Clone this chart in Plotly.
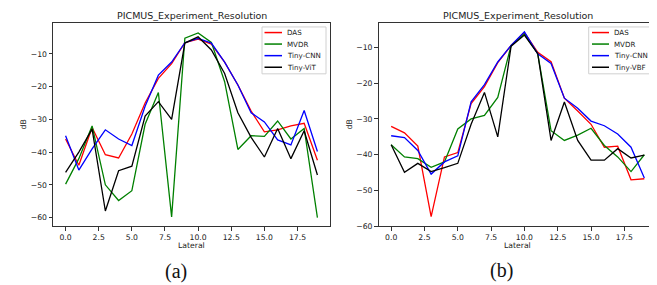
import plotly.graph_objects as go

lateral = list(range(20))

# Panel (a)
a_das = [-36, -44, -32.5, -40.8, -41.8, -34.5, -25, -17.5, -13, -6.6, -5.5, -7, -12.5, -19.5, -27.5, -33.8, -33.2, -32, -31.2, -42.5]
a_mvdr = [-49.8, -42, -32, -50, -54.8, -51.8, -31.5, -21.8, -59.8, -5.2, -3.6, -6.5, -18.5, -39.2, -35, -35.2, -30.5, -36, -32.8, -60]
a_cnn = [-35, -45.5, -39, -33.2, -36, -38, -26, -16.5, -12.5, -6.6, -5.3, -6.7, -12.5, -19.5, -28, -30.8, -36.3, -37.8, -27.3, -39.8]
a_vit = [-46.2, -40, -33, -58, -45.7, -44.3, -29, -24.6, -30, -6.7, -4.8, -8.8, -16, -28, -35.5, -41.5, -32.8, -42, -33.5, -47]

# Panel (b)
b_das = [-32.1, -33.9, -37.6, -57.3, -40.6, -39.4, -25.7, -21, -14.3, -9.5, -5.9, -11.4, -14, -24.2, -27.8, -31.5, -37.9, -37.6, -47, -46.7]
b_mvdr = [-37.2, -40.6, -41.1, -43.5, -42, -32.8, -30, -29, -24, -9.5, -6.3, -11.8, -33.3, -36, -34.5, -32.6, -37.4, -40.6, -44.7, -40]
b_cnn = [-34.7, -35.2, -38.8, -45.4, -42, -40.3, -25.2, -20.4, -14.1, -9.5, -5.7, -11.8, -14.5, -24.2, -27, -30.6, -31.9, -34.2, -37.9, -46.5]
b_vbf = [-37.2, -44.9, -42.4, -44.7, -43.6, -42.4, -31.5, -22.6, -35, -9.7, -6.6, -11.8, -36, -25.3, -36, -41.5, -41.5, -38.3, -40.9, -40.1]

names_a = ["DAS", "MVDR", "Tiny-CNN", "Tiny-ViT"]
names_b = ["DAS", "MVDR", "Tiny-CNN", "Tiny-VBF"]
colors = ["red", "green", "blue", "black"]
title_text = "PICMUS_Experiment_Resolution"
x_ticks = [0, 2.5, 5, 7.5, 10, 12.5, 15, 17.5]
y_ticks = [-60, -50, -40, -30, -20, -10]

W, H = 657, 285
FONT = "DejaVu Sans"
TXT = "#222222"

fig = go.Figure()
for ys, nm, c in zip([a_das, a_mvdr, a_cnn, a_vit], names_a, colors):
    fig.add_trace(go.Scatter(x=lateral, y=ys, mode="lines", name=nm, showlegend=False,
                             line=dict(color=c, width=1.3), xaxis="x", yaxis="y"))
for ys, nm, c in zip([b_das, b_mvdr, b_cnn, b_vbf], names_b, colors):
    fig.add_trace(go.Scatter(x=lateral, y=ys, mode="lines", name=nm, showlegend=False,
                             line=dict(color=c, width=1.3), xaxis="x2", yaxis="y2"))

def px_x(p):
    return p / W

def px_y(p):
    return 1 - p / H

axis_common = dict(showline=True, mirror=True, linecolor="#333333", linewidth=1,
                   ticks="outside", ticklen=3.5, tickwidth=0.8, tickcolor="#333333",
                   showgrid=False, zeroline=False,
                   tickfont=dict(family=FONT, size=7.7, color=TXT))

annotations = []
shapes = []

def text_ann(text, x, y, size=7.7, family=FONT, xanchor="center", angle=0, color=TXT):
    annotations.append(dict(text=text, x=px_x(x), y=px_y(y), xref="paper", yref="paper",
                            showarrow=False, xanchor=xanchor, yanchor="middle",
                            borderpad=0, textangle=angle,
                            font=dict(family=family, size=size, color=color)))

# titles, axis titles, captions
text_ann(title_text, 183.5, 8, size=9.5)
text_ann(title_text, 509.5, 8, size=9.5)
text_ann("dB", 15, 118.5, angle=-90)
text_ann("dB", 341, 118.5, angle=-90)
text_ann("Lateral", 183.5, 242)
text_ann("Lateral", 509.5, 242)
text_ann("(a)", 168, 268, size=20, family="Liberation Serif", color="#111111")
text_ann("(b)", 493, 267, size=20, family="Liberation Serif", color="#111111")

# legends (drawn manually to match the compact matplotlib style)
entry_y = [25, 36.7, 48.5, 60.3]
for (bx0, bx1, lx0, lx1, tx), names in [((254, 318, 256.5, 274, 277.5), names_a),
                                         ((580.7, 645, 584, 601, 604.5), names_b)]:
    shapes.append(dict(type="rect", xref="paper", yref="paper",
                       x0=px_x(bx0), x1=px_x(bx1), y0=px_y(67), y1=px_y(19.3),
                       line=dict(color="#d0d0d0", width=1), fillcolor="rgba(255,255,255,0.85)",
                       layer="above"))
    for nm, c, ey in zip(names, colors, entry_y):
        shapes.append(dict(type="line", xref="paper", yref="paper",
                           x0=px_x(lx0), x1=px_x(lx1), y0=px_y(ey), y1=px_y(ey),
                           line=dict(color=c, width=1.5), layer="above"))
        text_ann(nm, tx, ey, size=7.1, xanchor="left")

fig.update_layout(
    width=W, height=H,
    margin=dict(l=0, r=0, t=0, b=0),
    paper_bgcolor="white", plot_bgcolor="white",
    font=dict(family=FONT, size=7.7, color=TXT),
    showlegend=False,
    xaxis=dict(domain=[px_x(45), px_x(322)], range=[-0.95, 19.95], anchor="y",
               tickvals=x_ticks, tickformat=".1f", **axis_common),
    yaxis=dict(domain=[px_y(222.3), px_y(15)], range=[-62.7, -0.49], anchor="x",
               tickvals=y_ticks, **axis_common),
    xaxis2=dict(domain=[px_x(370.5), px_x(649)], range=[-0.95, 19.95], anchor="y2",
                tickvals=x_ticks, tickformat=".1f", **axis_common),
    yaxis2=dict(domain=[px_y(222.3), px_y(15)], range=[-60, -3.15], anchor="x2",
                tickvals=y_ticks, **axis_common),
    annotations=annotations,
    shapes=shapes,
)

fig.write_html("out.html")
